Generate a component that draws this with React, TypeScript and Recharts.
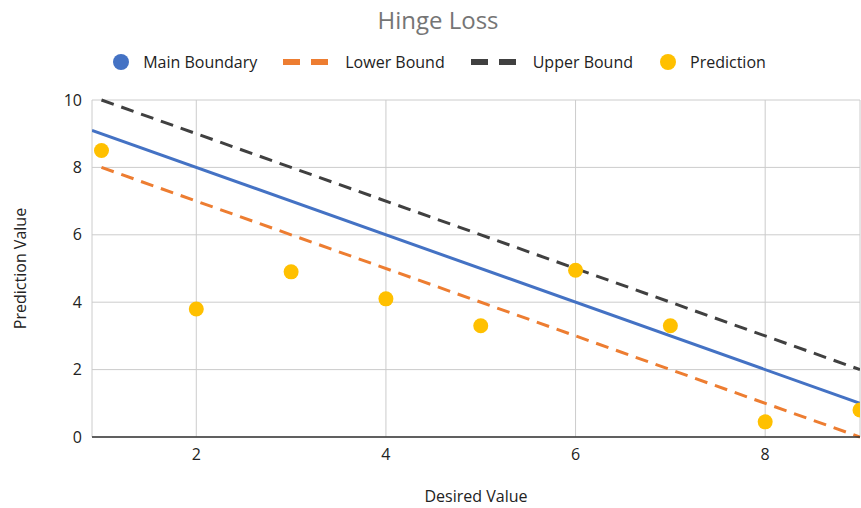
import {
  ComposedChart,
  Line,
  Scatter,
  XAxis,
  YAxis,
  CartesianGrid,
} from "recharts"

// boundary lines: x values and the three lines
const boundaryX = [0.9, 9]
const mainBoundary = [9.1, 1]
const lowerX = [1, 9]
const lowerBound = [8, 0]
const upperX = [1, 9]
const upperBound = [10, 2]

// predictions
const predX = [1, 2, 3, 4, 5, 6, 7, 8, 9]
const predY = [8.5, 3.8, 4.9, 4.1, 3.3, 4.95, 3.3, 0.45, 0.8]

const xTicks = [2, 4, 6, 8]
const yTicks = [0, 2, 4, 6, 8, 10]

const FONT = "'Open Sans', sans-serif"
const BLUE = "#4472C4"
const ORANGE = "#ED7D31"
const DARK = "#404040"
const YELLOW = "#FFC000"

const mainData = boundaryX.map((x, i) => ({ x, y: mainBoundary[i] }))
const lowerData = lowerX.map((x, i) => ({ x, y: lowerBound[i] }))
const upperData = upperX.map((x, i) => ({ x, y: upperBound[i] }))
const predData = predX.map((x, i) => ({ x, y: predY[i] }))

function Dot({ color }: { color: string }) {
  return (
    <svg width={18} height={18}>
      <circle cx={9} cy={9} r={8} fill={color} />
    </svg>
  )
}

function Dash({ color }: { color: string }) {
  return (
    <svg width={45} height={10}>
      <rect x={0} y={2} width={17} height={6} fill={color} />
      <rect x={28} y={2} width={17} height={6} fill={color} />
    </svg>
  )
}

function ChartLegend() {
  const dotItem = { display: "flex", alignItems: "center", gap: 13 }
  const dashItem = { display: "flex", alignItems: "center", gap: 17 }
  return (
    <div
      style={{
        position: "absolute",
        top: 51,
        left: 0,
        width: 878,
        display: "flex",
        justifyContent: "center",
        gap: 26,
        fontFamily: FONT,
        fontSize: 16,
        color: "#222",
      }}
    >
      <div style={dotItem}><Dot color={BLUE} />Main Boundary</div>
      <div style={dashItem}><Dash color={ORANGE} />Lower Bound</div>
      <div style={dashItem}><Dash color={DARK} />Upper Bound</div>
      <div style={dotItem}><Dot color={YELLOW} />Prediction</div>
    </div>
  )
}

export default function App() {
  return (
    <div style={{ position: "absolute", left: 0, top: 0, width: 861, height: 508, background: "#fff" }}>
      <div
        style={{
          position: "absolute",
          top: 3,
          left: 0,
          width: 876,
          textAlign: "center",
          fontFamily: FONT,
          fontSize: 24,
          color: "#757575",
        }}
      >
        Hinge Loss
      </div>
      <ChartLegend />
      <ComposedChart
        width={861}
        height={508}
        margin={{ top: 100, right: 1, bottom: 11, left: 0 }}
        style={{ fontFamily: FONT }}
      >
        <CartesianGrid stroke="#cccccc" strokeWidth={1} />
        <XAxis
          type="number"
          dataKey="x"
          domain={[0.9, 9]}
          ticks={xTicks}
          allowDataOverflow
          height={60}
          tickSize={0}
          tickMargin={12}
          tick={{ fontSize: 16, fill: "#222" }}
          axisLine={{ stroke: "#333", strokeWidth: 1.5 }}
          label={{ value: "Desired Value", position: "insideBottom", offset: -5, fontSize: 16, fill: "#222" }}
        />
        <YAxis
          type="number"
          dataKey="y"
          domain={[0, 10]}
          ticks={yTicks}
          width={92}
          tickSize={0}
          tickMargin={10}
          axisLine={false}
          tick={{ fontSize: 16, fill: "#222" }}
          label={{ value: "Prediction Value", angle: -90, position: "insideLeft", offset: 20, fontSize: 16, fill: "#222", style: { textAnchor: "middle" } }}
        />
        <Line
          data={upperData}
          dataKey="y"
          stroke={DARK}
          strokeWidth={3}
          strokeDasharray="13 8"
          dot={false}
          isAnimationActive={false}
        />
        <Line
          data={lowerData}
          dataKey="y"
          stroke={ORANGE}
          strokeWidth={3}
          strokeDasharray="13 8"
          dot={false}
          isAnimationActive={false}
        />
        <Line
          data={mainData}
          dataKey="y"
          stroke={BLUE}
          strokeWidth={3}
          dot={false}
          isAnimationActive={false}
        />
        <Scatter
          data={predData}
          dataKey="y"
          fill={YELLOW}
          shape={(p: any) => <circle cx={p.cx} cy={p.cy} r={7.5} fill={YELLOW} />}
          isAnimationActive={false}
        />
      </ComposedChart>
    </div>
  )
}
